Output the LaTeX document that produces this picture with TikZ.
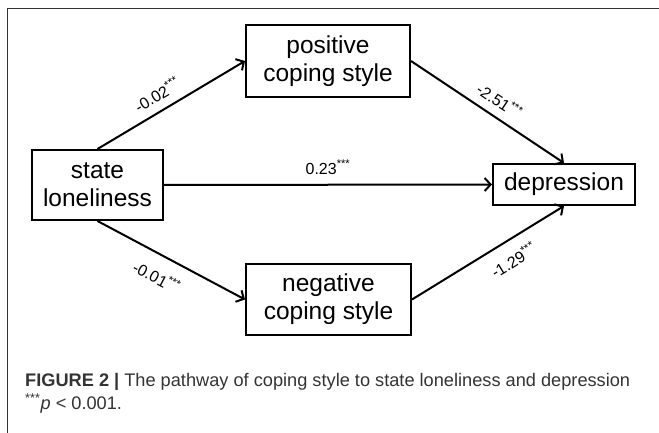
\documentclass[tikz,border=0pt]{standalone}
\usepackage{fontspec}
\setmainfont{Liberation Sans}
\usetikzlibrary{arrows.meta}

\begin{document}
\begin{tikzpicture}[x=1pt, y=-1pt, >={Straight Barb[length=6pt,width=13pt]},
  box/.style={draw, line width=2pt, align=center, inner sep=0pt, font=\fontsize{24.5}{28}\selectfont},
  link/.style={->, line width=2pt},
  coef/.style={sloped, font=\fontsize{16}{18}\selectfont},
  capt/.style={anchor=base west, inner sep=0pt, text=black!80, font=\fontsize{18.2}{21}\selectfont}]

\useasboundingbox (0,0) rectangle (659,433);

% frame
\draw[line width=1pt, black!80] (7.5,433) -- (7.5,8.5) -- (659,8.5);

% boxes
\node[box, minimum width=131pt, minimum height=70pt] (state) at (97.5,185) {state\\loneliness};
\node[box, minimum width=164pt, minimum height=72pt] (pos) at (328,61) {positive\\coping style};
\node[box, minimum width=165pt, minimum height=71pt] (neg) at (328.5,299.5) {negative\\coping style};
\node[box, minimum width=142pt, minimum height=41pt] (dep) at (564,184.5) {depression};

% paths
\draw[link] (state.north) -- node[coef, above=5pt, pos=0.46] {-0.02\textsuperscript{***}} (pos.west);
\draw[link] (pos.east) -- node[coef, above=5pt, pos=0.52] {-2.51\textsuperscript{***}} (dep.north);
\draw[link] (state.east) -- node[coef, above=6pt, pos=0.5] {0.23\textsuperscript{***}} (dep.west);
\draw[link] (state.south) -- node[coef, below=10pt, pos=0.47] {-0.01\textsuperscript{***}} (neg.west);
\draw[link] (neg.east) -- node[coef, below=8pt, pos=0.6] {-1.29\textsuperscript{***}} (dep.south);

% caption
\node[capt] (caption) at (25,386) {\textbf{FIGURE 2 |} The pathway of coping style to state loneliness and depression};
\node[capt] (note) at (25,409) {\textsuperscript{***}\textit{p} < 0.001.};

\end{tikzpicture}
\end{document}
